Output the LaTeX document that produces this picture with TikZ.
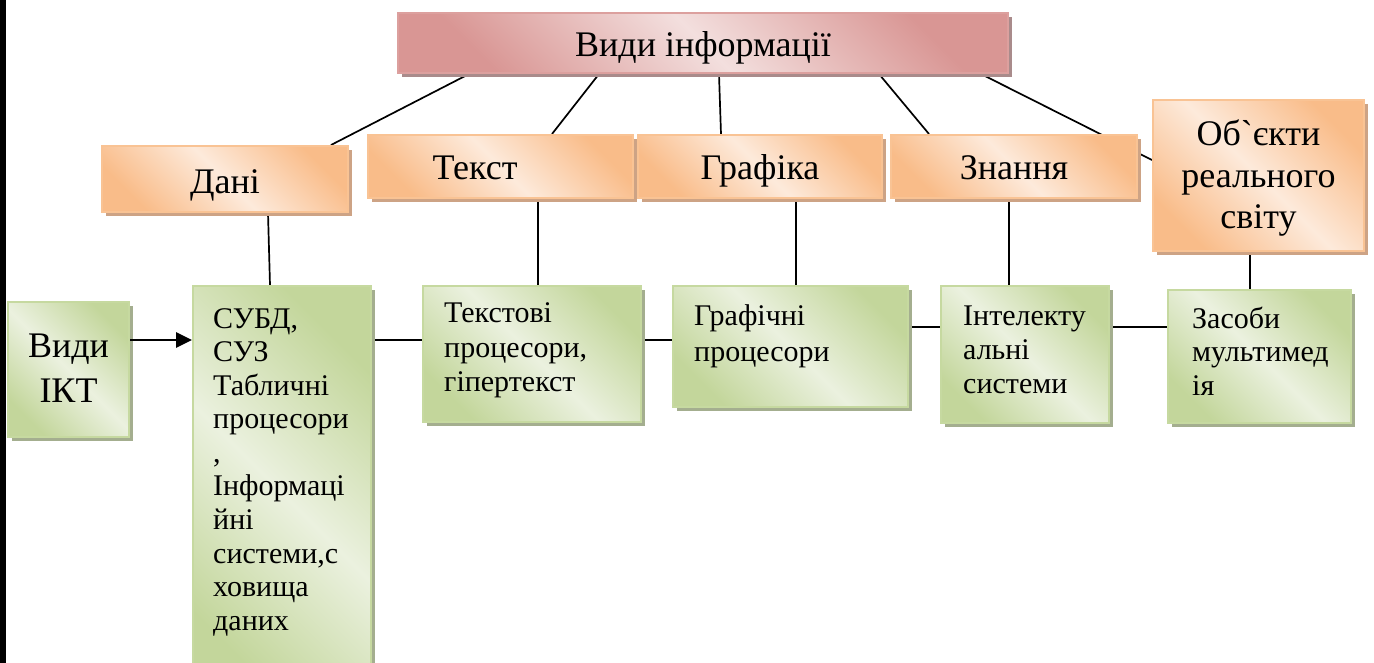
\documentclass[tikz,border=0pt]{standalone}
\usepackage{fontspec}
\setmainfont{Liberation Serif}
\usetikzlibrary{shadows,backgrounds,arrows.meta}

\definecolor{pinkL}{HTML}{F3DFDE}
\definecolor{pinkD}{HTML}{D99694}
\definecolor{pinkB}{HTML}{DCA09E}
\definecolor{pinkS}{HTML}{A98B8B}
\definecolor{orL}{HTML}{FDEADB}
\definecolor{orD}{HTML}{F9BC89}
\definecolor{orB}{HTML}{F9C394}
\definecolor{orS}{HTML}{CDA385}
\definecolor{grL}{HTML}{EBF1DF}
\definecolor{grD}{HTML}{C3D69B}
\definecolor{grB}{HTML}{C6D9A0}
\definecolor{grS}{HTML}{A4AE8F}

\newcommand\lns[1]{\begin{tabular}[t]{@{}l@{}}#1\end{tabular}}
\newcommand\clns[1]{\begin{tabular}[t]{@{}c@{}}#1\end{tabular}}

\tikzset{
  boxbase/.style={rectangle, inner sep=0pt, line width=2pt},
  pinkbox/.style={boxbase, draw=pinkB, left color=pinkD, right color=pinkD,
    middle color=pinkL, shading angle=135,
    drop shadow={shadow xshift=4pt, shadow yshift=-4pt, fill=pinkS, opacity=1}},
  orbox/.style={boxbase, draw=orB, left color=orD, right color=orD,
    middle color=orL, shading angle=135,
    drop shadow={shadow xshift=4pt, shadow yshift=-4pt, fill=orS, opacity=1}},
  grbox/.style={boxbase, draw=grB, left color=grD, right color=grD,
    middle color=grL, shading angle=135,
    drop shadow={shadow xshift=4pt, shadow yshift=-4pt, fill=grS, opacity=1}},
  bigtxt/.style={inner sep=0pt, anchor=base, font=\fontsize{36}{44}\selectfont},
  smalltxt/.style={inner sep=0pt, anchor=base west},
  conn/.style={line width=1.7pt, black},
  arr/.style={line width=2.8pt, black, -{Triangle[length=16pt,width=15pt]}},
}

\begin{document}
\begin{tikzpicture}[x=1pt, y=-1pt]
  \useasboundingbox (0,0) rectangle (1374,663);
  \clip (0,0) rectangle (1374,663);
  \begin{scope}[on background layer]
    \fill[white] (0,0) rectangle (1374,663);
  \end{scope}
  % page margin bar
  \fill[black] (0,0) rectangle (6,663);

  % upper level: kinds of information
  \node[pinkbox, minimum width=610pt, minimum height=60pt] (top) at (703,43) {};
  \node[orbox, minimum width=246pt, minimum height=66pt] (dani) at (225,179) {};
  \node[orbox, minimum width=265pt, minimum height=63pt] (tekst) at (500.5,166.5) {};
  \node[orbox, minimum width=244pt, minimum height=63pt] (grafika) at (760,166.5) {};
  \node[orbox, minimum width=246pt, minimum height=63pt] (znannia) at (1014,166.5) {};
  \node[orbox, minimum width=211pt, minimum height=151pt] (obj) at (1258.5,175.5) {};

  % lower level: kinds of ICT
  \node[grbox, minimum width=121pt, minimum height=135pt] (ikt) at (68.5,369.5) {};
  \node[grbox, minimum width=178pt, minimum height=414pt] (subd) at (282,493) {};
  \node[grbox, minimum width=218pt, minimum height=136pt] (tproc) at (532,354) {};
  \node[grbox, minimum width=235pt, minimum height=121pt] (gproc) at (790.5,346.5) {};
  \node[grbox, minimum width=168pt, minimum height=137pt] (intel) at (1025,354.5) {};
  \node[grbox, minimum width=183pt, minimum height=133pt] (media) at (1259.5,356.5) {};

  % connectors, kept behind the boxes
  \begin{scope}[on background layer]
    \draw[conn] ([xshift=72pt]top.south west) -- ([xshift=230pt]dani.north west);
    \draw[conn] ([xshift=202pt]top.south west) -- ([xshift=185pt]tekst.north west);
    \draw[conn] ([xshift=322pt]top.south west) -- ([xshift=84pt]grafika.north west);
    \draw[conn] ([xshift=482pt]top.south west) -- ([xshift=39pt]znannia.north west);
    \draw[conn] ([xshift=584pt]top.south west) -- ([yshift=-61pt]obj.north west);

    \draw[conn] ([xshift=167pt]dani.south west) -- ([xshift=78pt]subd.north west);
    \draw[conn] ([xshift=171pt]tekst.south west) -- ([xshift=116pt]tproc.north west);
    \draw[conn] ([xshift=159pt]grafika.south west) -- ([xshift=124pt]gproc.north west);
    \draw[conn] ([xshift=119pt]znannia.south west) -- ([xshift=69pt]intel.north west);
    \draw[conn] ([xshift=98pt]obj.south west) -- ([xshift=83pt]media.north west);

    \draw[conn] ([yshift=-55pt]subd.north east) -- ([yshift=-55pt]tproc.north west);
    \draw[conn] ([yshift=-55pt]tproc.north east) -- ([yshift=-55pt]gproc.north west);
    \draw[conn] ([yshift=-42pt]gproc.north east) -- ([yshift=-42pt]intel.north west);
    \draw[conn] ([yshift=-42pt]intel.north east) -- ([yshift=-38pt]media.north west);
  \end{scope}
  \draw[arr] ([yshift=-39pt]ikt.north east) -- ([yshift=-55pt]subd.north west);

  % labels
  \node[bigtxt] (ttop) at (703,57) {Види інформації};
  \node[bigtxt] (tdani) at (225,194) {Дані};
  \node[bigtxt] (ttekst) at (475,180) {Текст};
  \node[bigtxt] (tgraf) at (760,180) {Графіка};
  \node[bigtxt] (tznan) at (1014,180) {Знання};
  \node[bigtxt, font=\fontsize{36}{41.5}\selectfont] (tobj) at (1258.5,146)
    {\clns{Об\textasciigrave єкти\\реального\\світу}};
  \node[bigtxt, font=\fontsize{36}{45}\selectfont] (tikt) at (68.5,357)
    {\clns{Види\\ІКТ}};

  \node[smalltxt, font=\fontsize{30}{33.6}\selectfont] (tsubd) at (213,328)
    {\lns{СУБД,\\СУЗ\\Табличні\\процесори\\,\\Інформаці\\йні\\системи,с\\ховища\\даних}};
  \node[smalltxt, font=\fontsize{30}{34.5}\selectfont] (ttproc) at (444,323)
    {\lns{Текстові\\процесори,\\гіпертекст}};
  \node[smalltxt, font=\fontsize{30}{36}\selectfont] (tgproc) at (694,325)
    {\lns{Графічні\\процесори}};
  \node[smalltxt, font=\fontsize{30}{34}\selectfont] (tintel) at (963,325)
    {\lns{Інтелекту\\альні\\системи}};
  \node[smalltxt, font=\fontsize{30}{33.5}\selectfont] (tmedia) at (1192,328)
    {\lns{Засоби\\мультимед\\ія}};
\end{tikzpicture}
\end{document}
